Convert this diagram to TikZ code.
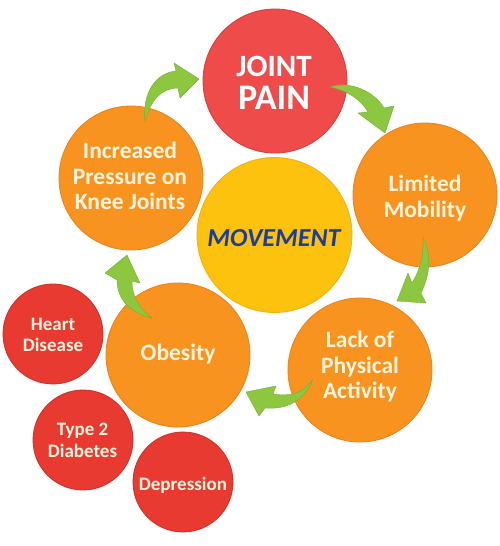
\documentclass[tikz,border=0pt]{standalone}
\usepackage{fontspec}
\setmainfont{Carlito}
\definecolor{orng}{HTML}{F7931E}
\definecolor{orngD}{HTML}{E8821A}
\definecolor{jpred}{HTML}{EF4B4B}
\definecolor{jpredD}{HTML}{D63A3A}
\definecolor{sred}{HTML}{E83A30}
\definecolor{sredD}{HTML}{C9302A}
\definecolor{yel}{HTML}{FCC20E}
\definecolor{yelD}{HTML}{F2B00A}
\definecolor{arrg}{HTML}{8DC63F}
\definecolor{arrd}{HTML}{74AE32}
\definecolor{txtc}{HTML}{FFF4DD}
\definecolor{mvblue}{HTML}{1C3D9B}
\begin{document}
\begin{tikzpicture}[x=1pt,y=-1pt,
  bub/.style={circle, inner sep=0pt, line width=0.8pt},
  big/.style={bub, minimum size=144pt, fill=orng, draw=orngD},
  small/.style={bub, minimum size=100pt, fill=sred, draw=sredD},
  lbl/.style={text=txtc, align=center, inner sep=0pt, font=\bfseries\fontsize{23.5}{25.5}\selectfont},
  sml/.style={text=txtc, align=center, inner sep=0pt, font=\bfseries\fontsize{19}{21.5}\selectfont},
  arr/.style={fill=arrg, draw=arrd, line width=0.4pt, line join=round}]
\useasboundingbox (0,0) rectangle (500,546);
\fill[white] (0,0) rectangle (500,546);

% circles
\node[bub, minimum size=144pt, fill=jpred, draw=jpredD] (jp) at (275,81) {};
\node[big] (lm) at (425,195) {};
\node[big] (ip) at (131,178) {};
\node[bub, minimum size=155pt, fill=yel, draw=yelD] (mv) at (274.5,235) {};
\node[big] (lp) at (360,370) {};
\node[big] (ob) at (178,355) {};
\node[small] (hd) at (53,334) {};
\node[small] (td) at (83,440) {};
\node[small] (dp) at (183,482) {};

% texts
\node[text=white, align=center, inner sep=0pt, font=\bfseries\fontsize{36}{33}\selectfont] (jpt) at (274,82.5) {{\fontsize{31}{33}\selectfont JOINT}\\PAIN};
\node[lbl] (lmt) at (425,198) {Limited\\Mobility};
\node[lbl] (ipt) at (130,176) {Increased\\Pressure on\\Knee Joints};
\node[text=mvblue, inner sep=0pt, font=\bfseries\itshape\fontsize{26}{28}\selectfont] (mvt) at (274,238.5) {MOVEMENT};
\node[lbl] (lpt) at (360,367) {Lack of\\Physical\\Activity};
\node[lbl] (obt) at (178,354.5) {Obesity};
\node[sml] (hdt) at (53,335) {Heart\\Disease};
\node[sml] (tdt) at (82.5,440.5) {Type 2\\Diabetes};
\node[sml] (dpt) at (183,485.5) {Depression};

% green arrows
\fill[arr] (145,122) .. controls (142,92) and (156,73) .. (176,71) -- (174,63) -- (199,79) -- (180,98) -- (178,88) .. controls (162,88) and (150,100) .. cycle;
\fill[arr] (330,87) .. controls (350,80) and (375,92) .. (384,108) -- (394,106) -- (385,133) -- (358,113) -- (368,112) .. controls (360,98) and (345,90) .. cycle;
\fill[arr] (423,237) .. controls (432,255) and (430,275) .. (421,293) -- (426,303) -- (397,301) -- (408,273) -- (412,283) .. controls (420,270) and (424,255) .. cycle;
\fill[arr] (313,379) .. controls (306,398) and (290,410) .. (265,408) -- (259,416) -- (246,392) -- (276,386) -- (273,394) .. controls (292,397) and (305,392) .. cycle;
\fill[arr] (152,318) .. controls (128,312) and (117,298) .. (117,280) -- (105,273) -- (127,255) -- (140,283) -- (132,281) .. controls (132,295) and (138,308) .. cycle;
\end{tikzpicture}
\end{document}
